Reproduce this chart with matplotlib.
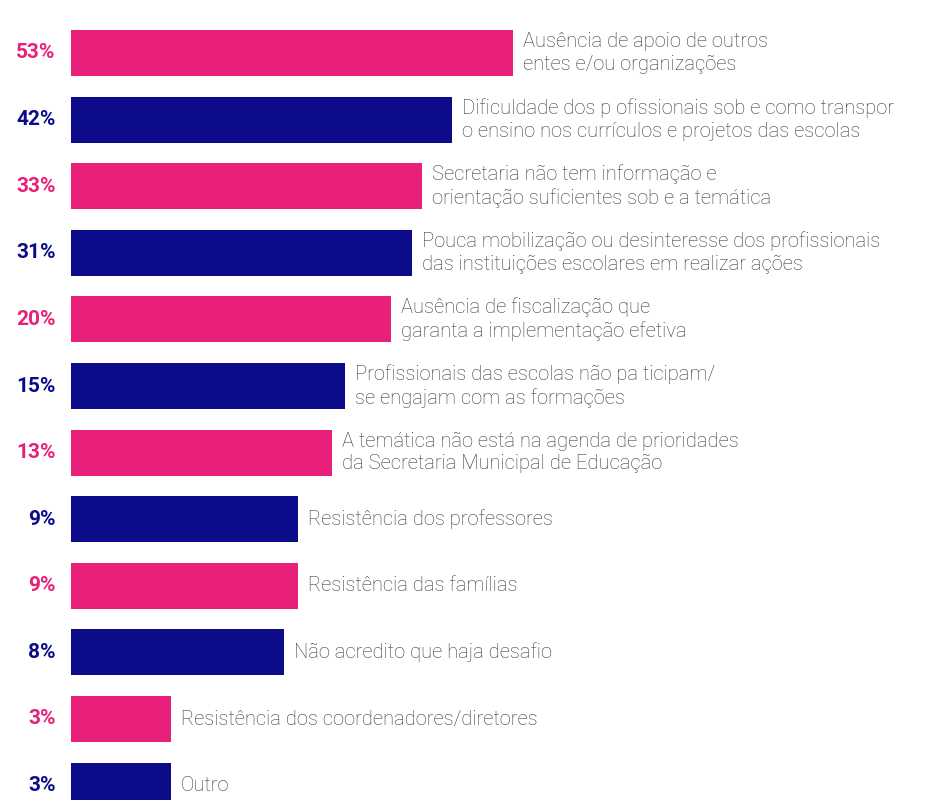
import matplotlib.pyplot as plt

# values as printed on the chart
pct_labels = ['53%', '42%', '33%', '31%', '20%', '15%', '13%', '9%', '9%', '8%', '3%', '3%']
# bar lengths as drawn in the picture (the infographic is not to scale)
bar_len = [442, 381, 351, 341, 320, 274, 261, 227, 227, 213, 100, 100]
categories = [
    'Ausência de apoio de outros\nentes e/ou organizações',
    'Dificuldade dos p ofissionais sob e como transpor\no ensino nos currículos e projetos das escolas',
    'Secretaria não tem informação e\norientação suficientes sob e a temática',
    'Pouca mobilização ou desinteresse dos profissionais\ndas instituições escolares em realizar ações',
    'Ausência de fiscalização que\ngaranta a implementação efetiva',
    'Profissionais das escolas não pa ticipam/\nse engajam com as formações',
    'A temática não está na agenda de prioridades\nda Secretaria Municipal de Educação',
    'Resistência dos professores',
    'Resistência das famílias',
    'Não acredito que haja desafio',
    'Resistência dos coordenadores/diretores',
    'Outro',
]

pink = '#E8207A'
navy = '#0C0C8A'
colors = [pink if i % 2 == 0 else navy for i in range(len(categories))]

plt.rcParams['font.family'] = ['Roboto', 'DejaVu Sans']

fig = plt.figure(figsize=(9.25, 8), dpi=100)
W, H = 925, 800
pitch = 66.6
top_c = 53
ax = fig.add_axes([71 / W, 0, 1 - 71 / W, 1])
ax.set_xlim(0, W - 71)
ax.set_ylim((H - top_c) / pitch, -top_c / pitch)
ax.axis('off')

ypos = list(range(len(categories)))
ax.barh(ypos, bar_len, height=46 / pitch, color=colors)

for y, L, lab, pct, c in zip(ypos, bar_len, categories, pct_labels, colors):
    ax.text(L + 10, y, lab, va='center', ha='left', fontsize=14.5,
            color='#383838', fontweight='light', linespacing=1.25)
    ax.annotate(pct, xy=(0, y), xytext=(-11, 0), textcoords='offset points',
                va='center', ha='right', fontsize=15, fontweight='bold',
                color=c, annotation_clip=False)

fig.savefig('out.png', dpi=100)
